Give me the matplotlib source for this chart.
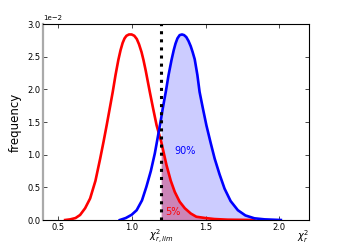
"""Reduced chi-square distributions with a rejection threshold."""

import matplotlib
matplotlib.use("Agg")
import matplotlib.pyplot as plt
import numpy as np

# Red curve (null distribution), y in units of 1e-2
red_x = [0.55, 0.584, 0.62, 0.651, 0.685, 0.719, 0.755, 0.787, 0.81, 0.831,
         0.852, 0.872, 0.891, 0.910, 0.925, 0.939, 0.952, 0.965, 0.982, 1.0,
         1.018, 1.035, 1.05, 1.067, 1.08, 1.095, 1.123, 1.146, 1.169, 1.20,
         1.236, 1.265, 1.292, 1.325, 1.36, 1.40, 1.438, 1.50, 1.56, 1.65,
         1.83]
red_y = [0.0, 0.01, 0.03, 0.077, 0.18, 0.33, 0.60, 0.94, 1.20, 1.45,
         1.71, 1.96, 2.22, 2.45, 2.60, 2.71, 2.78, 2.82, 2.84, 2.84,
         2.82, 2.77, 2.69, 2.57, 2.45, 2.29, 1.96, 1.70, 1.45, 1.20,
         0.84, 0.60, 0.43, 0.28, 0.18, 0.10, 0.05, 0.03, 0.015, 0.005,
         0.0]

# Blue curve (alternative distribution), y in units of 1e-2
blue_x = [0.92, 0.96, 1.00, 1.034, 1.07, 1.10, 1.13, 1.157, 1.19, 1.20,
          1.21, 1.231, 1.25, 1.27, 1.285, 1.297, 1.31, 1.325, 1.341, 1.355,
          1.37, 1.385, 1.40, 1.413, 1.427, 1.445, 1.46, 1.483, 1.506, 1.535,
          1.562, 1.595, 1.629, 1.67, 1.719, 1.77, 1.831, 1.90, 2.01]
blue_y = [0.0, 0.03, 0.08, 0.15, 0.30, 0.51, 0.75, 1.02, 1.43, 1.56,
          1.70, 1.96, 2.22, 2.45, 2.60, 2.70, 2.78, 2.83, 2.84, 2.83,
          2.80, 2.74, 2.66, 2.57, 2.46, 2.22, 1.96, 1.70, 1.45, 1.18,
          0.94, 0.70, 0.48, 0.29, 0.15, 0.07, 0.026, 0.01, 0.0]

chi_lim = 1.2
major_ticks = [0.5, 1.0, 1.5, 2.0]
major_labels = ["0.5", "1.0", "1.5", "2.0"]

red_x = np.array(red_x)
red_y = np.array(red_y) * 1e-2
blue_x = np.array(blue_x)
blue_y = np.array(blue_y) * 1e-2

fig = plt.figure(figsize=(3.44, 2.45), dpi=100)
ax = fig.add_axes([0.125, 0.102, 0.773, 0.8])

# shaded tails beyond the threshold
ax.fill_between(red_x, 0, red_y, where=red_x >= chi_lim, color="red",
                alpha=0.35, linewidth=0)
ax.fill_between(blue_x, 0, blue_y, where=blue_x >= chi_lim, color="blue",
                alpha=0.2, linewidth=0)
ax.plot(red_x, red_y, color="red", lw=1.9)
ax.plot(blue_x, blue_y, color="blue", lw=1.9)
ax.axvline(chi_lim, color="black", ls=":", lw=2.2)

ax.text(1.363, 0.0106, "90%", color="blue", fontsize=7, ha="center", va="center")
ax.text(1.28, 0.0012, "5%", color="red", fontsize=7, ha="center", va="center")

ax.set_xlim(0.4, 2.2)
ax.set_ylim(0, 0.03)
ax.set_xticks(major_ticks, labels=major_labels)
ax.set_xticks([chi_lim], labels=[r"$\chi^2_{r,lim}$"], minor=True)
ax.set_yticks(np.arange(0, 0.0301, 0.005))
ax.ticklabel_format(axis="y", style="sci", scilimits=(0, 0))
ax.yaxis.get_offset_text().set_fontsize(5)

ax.tick_params(direction="in", top=True, right=True, labelsize=6, length=3,
               width=0.5, pad=2)
ax.tick_params(axis="x", which="minor", length=0, pad=6, labelsize=7)

ax.set_ylabel("frequency", fontsize=8.5)
ax.set_xlabel(r"$\chi^2_r$", fontsize=7, loc="right")
ax.xaxis.set_label_coords(1.0, -0.04)
ax.xaxis.label.set_va("top")

for side in ("top", "right", "bottom"):
    ax.spines[side].set_linewidth(0.8)
ax.spines["left"].set_color("#aaaaaa")
ax.spines["left"].set_linewidth(1.6)

fig.savefig("out.png", dpi=100)
